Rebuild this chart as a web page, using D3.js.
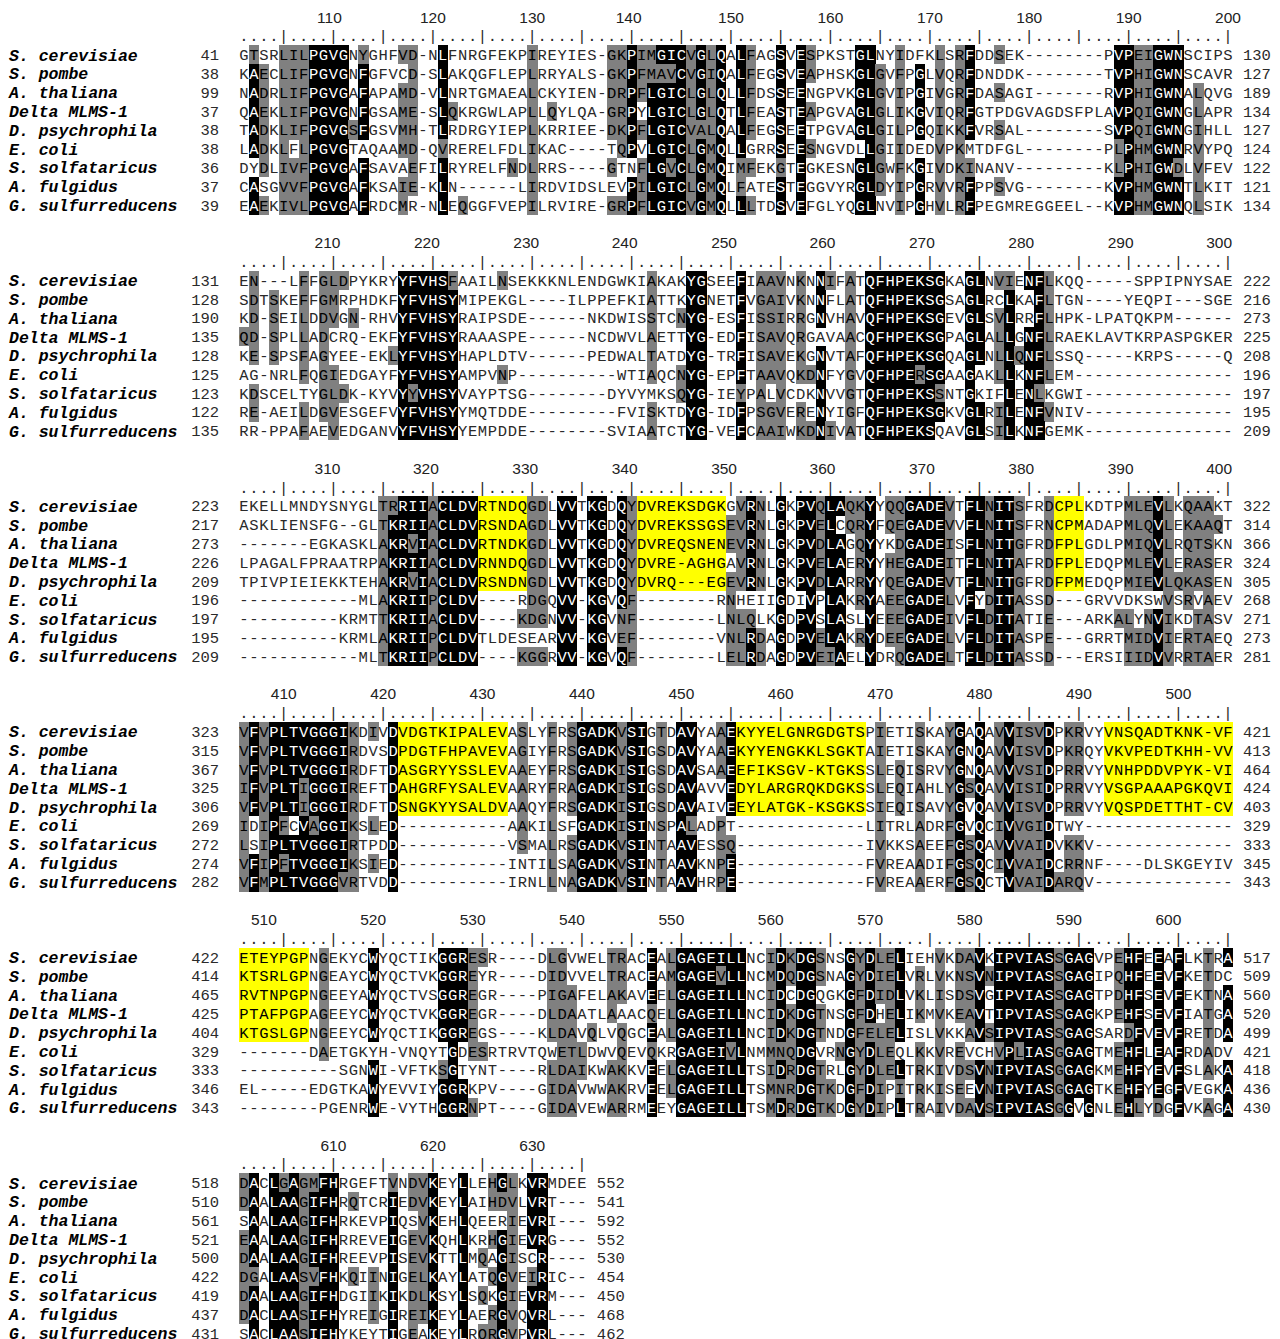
<!DOCTYPE html>
<html lang="en">
<head>
<meta charset="UTF-8">
<title>Alignment</title>
<style>
  body { margin: 0; background: #fff; }
  text { font-family: "Liberation Mono", "DejaVu Sans Mono", monospace; }
</style>
<script src="https://d3js.org/d3.v7.min.js"></script>
</head>
<body>
<script>
// species names, one per row
const species = ["S. cerevisiae", "S. pombe", "A. thaliana", "Delta MLMS-1", "D. psychrophila",
  "E. coli", "S. solfataricus", "A. fulgidus", "G. sulfurreducens"];

// aligned sequences, 100 columns per block
const block1 = [
  "GTSRLILPGVGNYGHFVD-NLFNRGFEKPIREYIES-GKPIMGICVGLQALFAGSVESPKSTGLNYIDFKLSRFDDSEK--------PVPEIGWNSCIPS",
  "KAECLIFPGVGNFGFVCD-SLAKQGFLEPLRRYALS-GKPFMAVCVGIQALFEGSVEAPHSKGLGVFPGLVQRFDNDDK--------TVPHIGWNSCAVR",
  "NADRLIFPGVGAFAPAMD-VLNRTGMAEALCKYIEN-DRPFLGICLGLQLLFDSSEENGPVKGLGVIPGIVGRFDASAGI-------RVPHIGWNALQVG",
  "QAEKLIFPGVGNFGSAME-SLQKRGWLAPLLQYLQA-GRPYLGICLGLQTLFEASTEAPGVAGLGLIKGVIQRFGTPDGVAGDSFPLAVPQIGWNGLAPR",
  "TADKLIFPGVGSFGSVMH-TLRDRGYIEPLKRRIEE-DKPFLGICVALQALFEGSEETPGVAGLGILPGQIKKFVRSAL--------SVPQIGWNGIHLL",
  "LADKLFLPGVGTAQAAMD-QVRERELFDLIKAC----TQPVLGICLGMQLLGRRSEESNGVDLLGIIDEDVPKMTDFGL--------PLPHMGWNRVYPQ",
  "DYDLIVFPGVGAFSAVAEFILRYRELFNDLRRS----GTNFLGVCLGMQIMFEKGTEGKESNGLGWFKGIVDKINANV---------KLPHIGWDLVFEV",
  "CASGVVFPGVGAFKSAIE-KLN------LIRDVIDSLEVPILGICLGMQLFATESTEGGVYRGLDYIPGRVVRFPPSVG--------KVPHMGWNTLKIT",
  "EAEKIVLPGVGAFRDCMR-NLEQGGFVEPILRVIRE-GRPFLGICVGMQLLLTDSVEFGLYQGLNVIPGHVLRFPEGMREGGEEL--KVPHMGWNQLSIK"
];
const block2 = [
  "EN---LFFGLDPYKRYYFVHSFAAILNSEKKKNLENDGWKIAKAKYGSEEFIAAVNKNNIFATQFHPEKSGKAGLNVIENFLKQQ-----SPPIPNYSAE",
  "SDTSKEFFGMRPHDKFYFVHSYMIPEKGL----ILPPEFKIATTKYGNETFVGAIVKNNFLATQFHPEKSGSAGLRCLKAFLTGN----YEQPI---SGE",
  "KD-SEILDDVGN-RHVYFVHSYRAIPSDE------NKDWISSTCNYG-ESFISSIRRGNVHAVQFHPEKSGEVGLSVLRRFLHPK-LPATQKPM------",
  "QD-SPLLADCRQ-EKFYFVHSYRAAASPE------NCDWVLAETTYG-EDFISAVQRGAVAACQFHPEKSGPAGLALLGNFLRAEKLAVTKRPASPGKER",
  "KE-SPSFAGYEE-EKLYFVHSYHAPLDTV------PEDWALTATDYG-TRFISAVEKGNVTAFQFHPEKSGQAGLNLLQNFLSSQ-----KRPS-----Q",
  "AG-NRLFQGIEDGAYFYFVHSYAMPVNP----------WTIAQCNYG-EPFTAAVQKDNFYGVQFHPERSGAAGAKLLKNFLEM----------------",
  "KDSCELTYGLDK-KYVYYVHSYVAYPTSG--------DYVYMKSQYG-IEYPALVCDKNVVGTQFHPEKSSNTGKIFLENLKGWI---------------",
  "RE-AEILDGVESGEFVYFVHSYYMQTDDE---------FVISKTDYG-IDFPSGVERENYIGFQFHPEKSGKVGLRILENFVNIV---------------",
  "RR-PPAFAEVEDGANVYFVHSYYEMPDDE--------SVIAATCTYG-VEFCAAIWKDNIVATQFHPEKSQAVGLSILKNFGEMK---------------"
];
const block3 = [
  "EKELLMNDYSNYGLTRRIIACLDVRTNDQGDLVVTKGDQYDVREKSDGKGVRNLGKPVQLAQKYYQQGADEVTFLNITSFRDCPLKDTPMLEVLKQAAKT",
  "ASKLIENSFG--GLTKRIIACLDVRSNDAGDLVVTKGDQYDVREKSSGSEVRNLGKPVELCQRYFQEGADEVVFLNITSFRNCPMADAPMLQVLEKAAQT",
  "-------EGKASKLAKRVIACLDVRTNDKGDLVVTKGDQYDVREQSNENEVRNLGKPVDLAGQYYKDGADEISFLNITGFRDFPLGDLPMIQVLRQTSKN",
  "LPAGALFPRAATRPAKRIIACLDVRNNDQGDLVVTKGDQYDVRE-AGHGAVRNLGKPVELAERYYHEGADEITFLNITAFRDFPLEDQPMLEVLERASER",
  "TPIVPIEIEKKTEHAKRVIACLDVRSNDNGDLVVTKGDQYDVRQ---EGEVRNLGKPVDLARRYYQEGADEVTFLNITGFRDFPMEDQPMIEVLQKASEN",
  "------------MLAKRIIPCLDV----RDGQVV-KGVQF--------RNHEIIGDIVPLAKRYAEEGADELVFYDITASSD---GRVVDKSWVSRVAEV",
  "----------KRMTTKRIIACLDV----KDGNVV-KGVNF--------LNLQLKGDPVSLASLYEEEGADEIVFLDITATIE---ARKALYNVIKDTASV",
  "----------KRMLAKRIIPCLDVTLDESEARVV-KGVEF--------VNLRDAGDPVELAKRYDEEGADELVFLDITASPE---GRRTMIDVIERTAEQ",
  "------------MLTKRIIPCLDV----KGGRVV-KGVQF--------LELRDAGDPVEIAELYDRQGADELTFLDITASSD---ERSIIIDVVRRTAER"
];
const block4 = [
  "VFVPLTVGGGIKDIVDVDGTKIPALEVASLYFRSGADKVSIGTDAVYAAEKYYELGNRGDGTSPIETISKAYGAQAVVISVDPKRVYVNSQADTKNK-VF",
  "VFVPLTVGGGIRDVSDPDGTFHPAVEVAGIYFRSGADKVSIGSDAVYAAEKYYENGKKLSGKTAIETISKAYGNQAVVISVDPKRQYVKVPEDTKHH-VV",
  "VFVPLTVGGGIRDFTDASGRYYSSLEVAAEYFRSGADKISIGSDAVSAAEEFIKSGV-KTGKSSLEQISRVYGNQAVVVSIDPRRVYVNHPDDVPYK-VI",
  "IFVPLTIGGGIREFTDAHGRFYSALEVAARYFRAGADKISIGSDAVAVVEDYLARGRQKDGKSSLEQIAHLYGSQAVVISIDPRRVYVSGPAAAPGKQVI",
  "VFVPLTIGGGIRDFTDSNGKYYSALDVAAQYFRSGADKISIGSDAVAIVEEYLATGK-KSGKSSIEQISAVYGVQAVVISVDPRRVYVQSPDETTHT-CV",
  "IDIPFCVAGGIKSLED-----------AAKILSFGADKISINSPALADPT-------------LITRLADRFGVQCIVVGIDTWY---------------",
  "LSIPLTVGGGIRTPDD-----------VSMALRSGADKVSINTAAVESSQ-------------IVKKSAEEFGSQAVVVAIDVKKV--------------",
  "VFIPFTVGGGIKSIED-----------INTILSAGADKVSINTAAVKNPE-------------FVREAADIFGSQCIVVAIDCRRNF----DLSKGEYIV",
  "VFMPLTVGGGVRTVDD-----------IRNLLNAGADKVSINTAAVHRPE-------------FVREAAERFGSQCTVVAIDARQV--------------"
];
const block5 = [
  "ETEYPGPNGEKYCWYQCTIKGGRESR----DLGVWELTRACEALGAGEILLNCIDKDGSNSGYDLELIEHVKDAVKIPVIASSGAGVPEHFEEAFLKTRA",
  "KTSRLGPNGEAYCWYQCTVKGGREYR----DIDVVELTRACEAMGAGEVLLNCMDQDGSNAGYDIELVRLVKNSVNIPVIASSGAGIPQHFEEVFKETDC",
  "RVTNPGPNGEEYAWYQCTVSGGREGR----PIGAFELAKAVEELGAGEILLNCIDCDGQGKGFDIDLVKLISDSVGIPVIASSGAGTPDHFSEVFEKTNA",
  "PTAFPGPAGEEYCWYQCTVKGGREGR----DLDAATLAAACQELGAGEILLNCIDKDGTNSGFDHELIKMVKEAVTIPVIASSGAGKPEHFSEVFIATGA",
  "KTGSLGPNGEEYCWYQCTIKGGREGS----KLDAVQLVQGCEALGAGEILLNCIDKDGTNDGFELELISLVKKAVSIPVIASSGAGSARDFVEVFRETDA",
  "-------DAETGKYH-VNQYTGDESRTRVTQWETLDWVQEVQKRGAGEIVLNMMNQDGVRNGYDLEQLKKVREVCHVPLIASGGAGTMEHFLEAFRDADV",
  "----------SGNWI-VFTKSGTYNT----RLDAIKWAKKVEELGAGEILLTSIDRDGTRLGYDLELTRKIVDSVNIPVIASGGAGKMEHFYEVFSLAKA",
  "EL-----EDGTKAWYEVVIYGGRKPV----GIDAVWWAKRVEELGAGEILLTSMNRDGTKDGFDIPITRKISEEVNIPVIASGGAGTKEHFYEGFVEGKA",
  "--------PGENRWE-VYTHGGRNPT----GIDAVEWARRMEEYGAGEILLTSMDRDGTKDGYDIPLTRAIVDAVSIPVIASGGVGNLEHLYDGFVKAGA"
];
const block6 = [
  "DACLGAGMFHRGEFTVNDVKEYLLEHGLKVRMDEE",
  "DAALAAGIFHRQTCRIEDVKEYLAIHDVLVRT---",
  "SAALAAGIFHRKEVPIQSVKEHLQEERIEVRI---",
  "EAALAAGIFHRREVEIGEVKQHLKRHGIEVRG---",
  "DAALAAGIFHREEVPISEVKTTLMQAGISCR----",
  "DGALAASVFHKQIINIGELKAYLATQGVEIRIC--",
  "DAALAAGIFHDGIIKIKDLKSYLSQKGIEVRM---",
  "DACLAASIFHYREIGIREIKEYLAERGVQVRL---",
  "SACLAASIFHYKEYTIGEAKEYLRQRGVPVRL---"
];

// residue numbers at the start and end of each row
const startNums = [
  [41, 38, 99, 37, 38, 38, 36, 37, 39],
  [131, 128, 190, 135, 128, 125, 123, 122, 135],
  [223, 217, 273, 226, 209, 196, 197, 195, 209],
  [323, 315, 367, 325, 306, 269, 272, 274, 282],
  [422, 414, 465, 425, 404, 329, 333, 346, 343],
  [518, 510, 561, 521, 500, 422, 419, 437, 431]
];
const endNums = [
  [130, 127, 189, 134, 127, 124, 122, 121, 134],
  [222, 216, 273, 225, 208, 196, 197, 195, 209],
  [322, 314, 366, 324, 305, 268, 271, 273, 281],
  [421, 413, 464, 424, 403, 329, 333, 345, 343],
  [517, 509, 560, 520, 499, 421, 418, 436, 430],
  [552, 541, 592, 552, 530, 454, 450, 468, 462]
];

// ruler labels and the column each sits over
const rulerLabels = [
  [110, 120, 130, 140, 150, 160, 170, 180, 190, 200],
  [210, 220, 230, 240, 250, 260, 270, 280, 290, 300],
  [310, 320, 330, 340, 350, 360, 370, 380, 390, 400],
  [410, 420, 430, 440, 450, 460, 470, 480, 490, 500],
  [510, 520, 530, 540, 550, 560, 570, 580, 590, 600],
  [610, 620, 630]
];
const rulerCols = [
  [9.6, 20, 30, 39.7, 50, 60, 70, 80, 90, 100],
  [9.4, 19.4, 29.4, 39.3, 49.3, 59.2, 69.2, 79.2, 89.2, 99.1],
  [9.4, 19.3, 29.3, 39.3, 49.3, 59.2, 69.2, 79.2, 89.2, 99.1],
  [5, 15, 25, 35, 45, 55, 65, 75, 85, 95],
  [3, 14, 24, 34, 44, 54, 64, 74, 84, 94],
  [10, 20, 30]
];

// hand highlighted (yellow) stretches: block, first row, last row, first col, last col
const highlights = [
  [3, 1, 5, 25, 29], [3, 1, 5, 41, 49], [3, 1, 5, 83, 85],
  [4, 1, 5, 17, 27], [4, 1, 5, 51, 63], [4, 1, 5, 88, 100],
  [5, 1, 5, 1, 7]
];

const blocks = [block1, block2, block3, block4, block5, block6];

// residue pairs that score positive in PAM250 -> counted as similar
const simPairs = ["AG","AP","AS","AT","RQ","RH","RK","RW","ND","NQ","NE","NH","NK","NS",
  "DQ","DE","DG","DH","QE","QH","QK","EH","GS","IL","IM","IF","IV","LM","LF","LV","MV","FY","PS","ST"];
const sim = new Set();
simPairs.forEach(p => { sim.add(p); sim.add(p[1] + p[0]); });
const minCount = 7; // of 9 sequences

function shadeColumn(col) {
  return col.map(r => {
    if (r === "-") return "n";
    const same = col.filter(s => s === r).length;
    if (same >= minCount) return "b";
    const near = col.filter(s => s === r || sim.has(r + s)).length;
    return near >= minCount ? "g" : "n";
  });
}

const width = 1280, height = 1339;
const charW = 9.94, lineH = 18.8;

const svg = d3.select("body").append("svg")
  .attr("width", width)
  .attr("height", height)
  .style("display", "block");

// column -> x (left edge), text line -> y (centre)
const x = d3.scaleLinear().domain([0, 100]).range([239, 239 + 100 * charW]);
const y = d3.scaleLinear().domain([0, 1]).range([17, 17 + lineH]);

const fill = { b: "#000", g: "#808080", y: "#ffff00" };
const ink = { b: "#fff", g: "#000", y: "#000", n: "#2a2a2a" };

blocks.forEach((rows, b) => {
  const top = b * 12;
  const len = rows[0].length;
  const g = svg.append("g").attr("class", "block");

  // shading per cell
  const shades = rows.map(() => []);
  for (let c = 0; c < len; c++) {
    const col = rows.map(r => r[c]);
    shadeColumn(col).forEach((s, i) => { shades[i][c] = s; });
  }
  highlights.filter(h => h[0] === b + 1).forEach(([, r0, r1, c0, c1]) => {
    for (let i = r0 - 1; i < r1; i++)
      for (let c = c0 - 1; c < c1; c++) shades[i][c] = "y";
  });

  const cells = [];
  rows.forEach((seq, i) => {
    for (let c = 0; c < len; c++) cells.push({ row: i, col: c, ch: seq[c], s: shades[i][c] });
  });

  g.selectAll("rect.cell")
    .data(cells.filter(d => d.s !== "n"))
    .join("rect")
    .attr("class", "cell")
    .attr("x", d => x(d.col))
    .attr("y", d => y(top + 2 + d.row) - lineH / 2)
    .attr("width", x(1) - x(0) + 0.4)
    .attr("height", lineH + 0.4)
    .attr("fill", d => fill[d.s])
    .attr("shape-rendering", "crispEdges");

  g.selectAll("text.res")
    .data(cells)
    .join("text")
    .attr("class", "res")
    .attr("x", d => x(d.col + 0.5))
    .attr("y", d => y(top + 2 + d.row))
    .attr("dy", "0.36em")
    .attr("text-anchor", "middle")
    .style("font-size", "15.5px")
    .attr("fill", d => ink[d.s])
    .text(d => d.ch);

  // species names
  g.selectAll("text.name")
    .data(species)
    .join("text")
    .attr("class", "name")
    .attr("x", 9)
    .attr("y", (d, i) => y(top + 2 + i))
    .attr("dy", "0.36em")
    .style("font-size", "16.5px")
    .style("font-weight", "bold")
    .style("font-style", "italic")
    .attr("fill", "#000")
    .text(d => d);

  // start numbers
  g.selectAll("text.start")
    .data(startNums[b])
    .join("text")
    .attr("class", "start")
    .attr("x", x(0) - 2 * charW)
    .attr("y", (d, i) => y(top + 2 + i))
    .attr("dy", "0.36em")
    .attr("text-anchor", "end")
    .style("font-size", "15.5px")
    .attr("fill", "#2a2a2a")
    .text(d => d);

  // end numbers
  g.selectAll("text.end")
    .data(endNums[b])
    .join("text")
    .attr("class", "end")
    .attr("x", x(len + 1))
    .attr("y", (d, i) => y(top + 2 + i))
    .attr("dy", "0.36em")
    .style("font-size", "15.5px")
    .attr("fill", "#2a2a2a")
    .text(d => d);

  // ruler marks
  g.selectAll("text.tick")
    .data(d3.range(len))
    .join("text")
    .attr("class", "tick")
    .attr("x", c => x(c + 0.5))
    .attr("y", y(top + 1))
    .attr("dy", "0.36em")
    .attr("text-anchor", "middle")
    .style("font-size", "15.5px")
    .attr("fill", "#2a2a2a")
    .text(c => (c + 1) % 5 === 0 ? "|" : ".");

  // ruler numbers
  g.selectAll("text.rnum")
    .data(rulerLabels[b])
    .join("text")
    .attr("class", "rnum")
    .attr("x", (d, i) => x(rulerCols[b][i] - 0.5))
    .attr("y", y(top))
    .attr("dy", "0.36em")
    .attr("text-anchor", "middle")
    .style("font-family", "'Liberation Sans', Arial, sans-serif")
    .style("font-size", "15.5px")
    .attr("fill", "#222")
    .text(d => d);
});
</script>
</body>
</html>
